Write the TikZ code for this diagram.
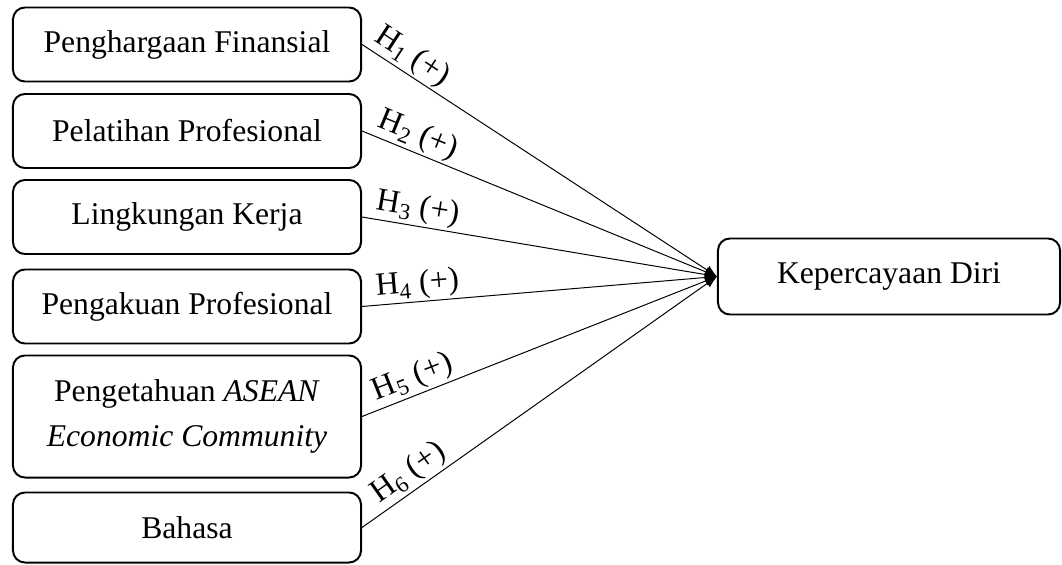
\documentclass[tikz,border=0pt]{standalone}
\usepackage{fontspec}
\setmainfont{Liberation Serif}
\usepackage{tikz}
\usetikzlibrary{arrows.meta}

\tikzset{
    faktor/.style={draw, line width=1.4pt, rounded corners=0.3cm,
        minimum width=8.7cm, minimum height=1.85cm, align=center,
        font=\fontsize{22.5}{32}\selectfont},
    hipotesis/.style={-{Latex[length=0.3cm,width=0.24cm]}, line width=0.7pt},
    hlabel/.style={pos=0.15, sloped, above, inner sep=1.5pt,
        font=\fontsize{23}{27}\selectfont}
}

\begin{document}
\begin{tikzpicture}[x=0.025cm, y=-0.025cm]
    \useasboundingbox (0,0) rectangle (1062,564);
    \node[faktor] (fin) at (187,44.5) {Penghargaan Finansial};
    \node[faktor] (pel) at (187,131) {Pelatihan Profesional};
    \node[faktor] (lin) at (187,217) {Lingkungan Kerja};
    \node[faktor] (pen) at (187,306.5) {Pengakuan Profesional};
    \node[faktor, minimum height=3.05cm] (aec) at (187,416.5) {Pengetahuan \textit{ASEAN}\\\textit{Economic Community}};
    \node[faktor, minimum height=1.75cm] (bah) at (187,527.5) {Bahasa};
    \node[faktor, minimum width=8.55cm, minimum height=1.9cm] (kep) at (889,276.5) {Kepercayaan Diri};
    \draw[hipotesis] (fin.east) -- node[hlabel, pos=0.115] {H\textsubscript{1} (+)} (kep.west);
    \draw[hipotesis] (pel.east) -- node[hlabel, pos=0.14] {H\textsubscript{2} (+)} (kep.west);
    \draw[hipotesis] (lin.east) -- node[hlabel] {H\textsubscript{3} (+)} (kep.west);
    \draw[hipotesis] (pen.east) -- node[hlabel, pos=0.16] {H\textsubscript{4} (+)} (kep.west);
    \draw[hipotesis] (aec.east) -- node[hlabel, pos=0.16] {H\textsubscript{5} (+)} (kep.west);
    \draw[hipotesis] (bah.east) -- node[hlabel, pos=0.16] {H\textsubscript{6} (+)} (kep.west);
\end{tikzpicture}
\end{document}
